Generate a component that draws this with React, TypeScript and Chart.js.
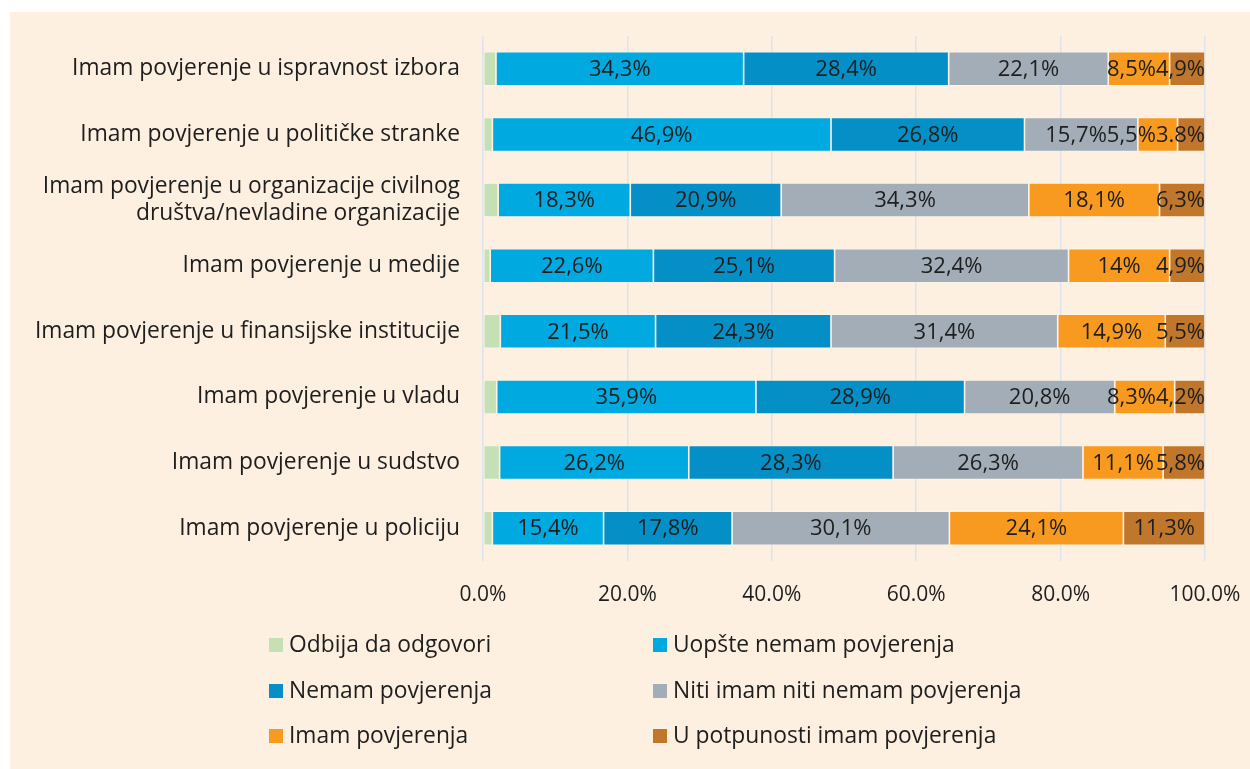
import React, { useEffect, useRef } from "react";
import { Chart, registerables } from "chart.js";

Chart.register(...registerables);

const categories: (string | string[])[] = [
  "Imam povjerenje u ispravnost izbora",
  "Imam povjerenje u političke stranke",
  ["Imam povjerenje u organizacije civilnog", "društva/nevladine organizacije"],
  "Imam povjerenje u medije",
  "Imam povjerenje u finansijske institucije",
  "Imam povjerenje u vladu",
  "Imam povjerenje u sudstvo",
  "Imam povjerenje u policiju",
];

const seriesNames = [
  "Odbija da odgovori",
  "Uopšte nemam povjerenja",
  "Nemam povjerenja",
  "Niti imam niti nemam povjerenja",
  "Imam povjerenja",
  "U potpunosti imam povjerenja",
];

const odbija = [1.8, 1.3, 2.1, 1.0, 2.4, 1.9, 2.3, 1.3];
const uopste = [34.3, 46.9, 18.3, 22.6, 21.5, 35.9, 26.2, 15.4];
const nemam = [28.4, 26.8, 20.9, 25.1, 24.3, 28.9, 28.3, 17.8];
const niti = [22.1, 15.7, 34.3, 32.4, 31.4, 20.8, 26.3, 30.1];
const imam = [8.5, 5.5, 18.1, 14.0, 14.9, 8.3, 11.1, 24.1];
const potpuno = [4.9, 3.8, 6.3, 4.9, 5.5, 4.2, 5.8, 11.3];

const seriesColors = ["#c5e0b4", "#00a9df", "#048fc7", "#a2adb7", "#f89a20", "#c0772c"];

const xTicks = [0, 20, 40, 60, 80, 100];

// labels shown with a decimal point instead of a comma in the source: [series, category]
const pointDecimalLabels = [[5, 1]];

const FONT = "'Open Sans', 'Noto Sans', sans-serif";
const TEXT = "#1e1e1e";

function formatLabel(v: number, ds: number, idx: number) {
  const usePoint = pointDecimalLabels.some(([d, i]) => d === ds && i === idx);
  const s = Number.isInteger(v) ? String(v) : v.toFixed(1);
  return (usePoint ? s : s.replace(".", ",")) + "%";
}

const dataLabelPlugin = {
  id: "segmentLabels",
  afterDatasetsDraw(chart: any) {
    const ctx = chart.ctx;
    const area = chart.chartArea;
    ctx.save();
    ctx.font = `22px ${FONT}`;
    ctx.fillStyle = TEXT;
    ctx.textAlign = "left";
    ctx.textBaseline = "middle";
    const nCat = chart.data.labels.length;
    for (let i = 0; i < nCat; i++) {
      const items: { text: string; left: number; w: number; y: number }[] = [];
      chart.data.datasets.forEach((ds: any, di: number) => {
        if (di === 0) return;
        const el = chart.getDatasetMeta(di).data[i];
        const text = formatLabel(ds.data[i], di, i);
        const w = ctx.measureText(text).width;
        const cx = (el.x + el.base) / 2;
        items.push({ text, left: cx - w / 2, w, y: el.y + 1 });
      });
      // keep labels inside the plot area and avoid overlaps (right to left)
      let bound = area.right;
      for (let k = items.length - 1; k >= 0; k--) {
        const it = items[k];
        if (it.left + it.w > bound) it.left = bound - it.w;
        bound = it.left;
      }
      items.forEach((it) => ctx.fillText(it.text, it.left, it.y));
    }
    ctx.restore();
  },
};

const legendPlugin = {
  id: "gridLegend",
  afterDraw(chart: any) {
    const ctx = chart.ctx;
    const colX = [259, 643];
    const rowY = [633, 679, 724];
    const box = 14;
    ctx.save();
    ctx.font = `22.8px ${FONT}`;
    ctx.textBaseline = "middle";
    ctx.textAlign = "left";
    chart.data.datasets.forEach((ds: any, i: number) => {
      const c = i % 2;
      const r = Math.floor(i / 2);
      const x = colX[c];
      const y = rowY[r];
      ctx.fillStyle = ds.backgroundColor;
      ctx.fillRect(x, y - box / 2, box, box);
      ctx.fillStyle = TEXT;
      ctx.fillText(ds.label, x + box + 6, y + 1);
    });
    ctx.restore();
  },
};

export default function App() {
  const ref = useRef<HTMLCanvasElement | null>(null);

  useEffect(() => {
    if (!ref.current) return;
    const values = [odbija, uopste, nemam, niti, imam, potpuno];
    const chart = new Chart(ref.current, {
      type: "bar",
      data: {
        labels: categories,
        datasets: values.map((d, i) => ({
          label: seriesNames[i],
          data: d,
          backgroundColor: seriesColors[i],
          borderColor: "rgba(255,255,255,0.35)",
          borderWidth: 0.8,
          borderSkipped: false,
          barPercentage: 0.52,
          categoryPercentage: 1,
        })),
      },
      options: {
        indexAxis: "y",
        responsive: false,
        animation: false,
        layout: { padding: { top: 24, right: 45, bottom: 0, left: 0 } },
        plugins: {
          legend: { display: false },
          tooltip: { enabled: false },
        },
        scales: {
          x: {
            stacked: true,
            min: 0,
            max: 100,
            afterBuildTicks: (scale: any) => {
              scale.ticks = xTicks.map((v) => ({ value: v }));
            },
            afterFit: (scale: any) => {
              scale.height = 208;
              scale.paddingLeft = 0;
              scale.paddingRight = 0;
            },
            border: { display: false },
            grid: {
              color: "#dde3ec",
              lineWidth: 1.5,
              drawTicks: false,
              tickLength: 0,
            },
            ticks: {
              padding: 21,
              color: TEXT,
              font: { family: FONT, size: 21 },
              callback: (v: any) => Number(v).toFixed(1) + "%",
            },
          },
          y: {
            stacked: true,
            afterFit: (scale: any) => {
              scale.width = 473;
              scale.paddingTop = 0;
              scale.paddingBottom = 0;
            },
            border: { display: false },
            grid: { display: false, drawTicks: false, tickLength: 0 },
            ticks: {
              padding: 23,
              color: TEXT,
              font: { family: FONT, size: 22.8, lineHeight: 1.15 },
            },
          },
        },
      },
      plugins: [dataLabelPlugin, legendPlugin],
    } as any);
    return () => chart.destroy();
  }, []);

  return (
    <div style={{ position: "absolute", left: 0, top: 0, width: 1250, height: 769, background: "#ffffff" }}>
      <div style={{ position: "absolute", left: 10, top: 12, width: 1240, height: 757, background: "#fdf0e1" }}>
        <canvas ref={ref} width={1240} height={757} style={{ display: "block", width: 1240, height: 757 }} />
      </div>
    </div>
  );
}
